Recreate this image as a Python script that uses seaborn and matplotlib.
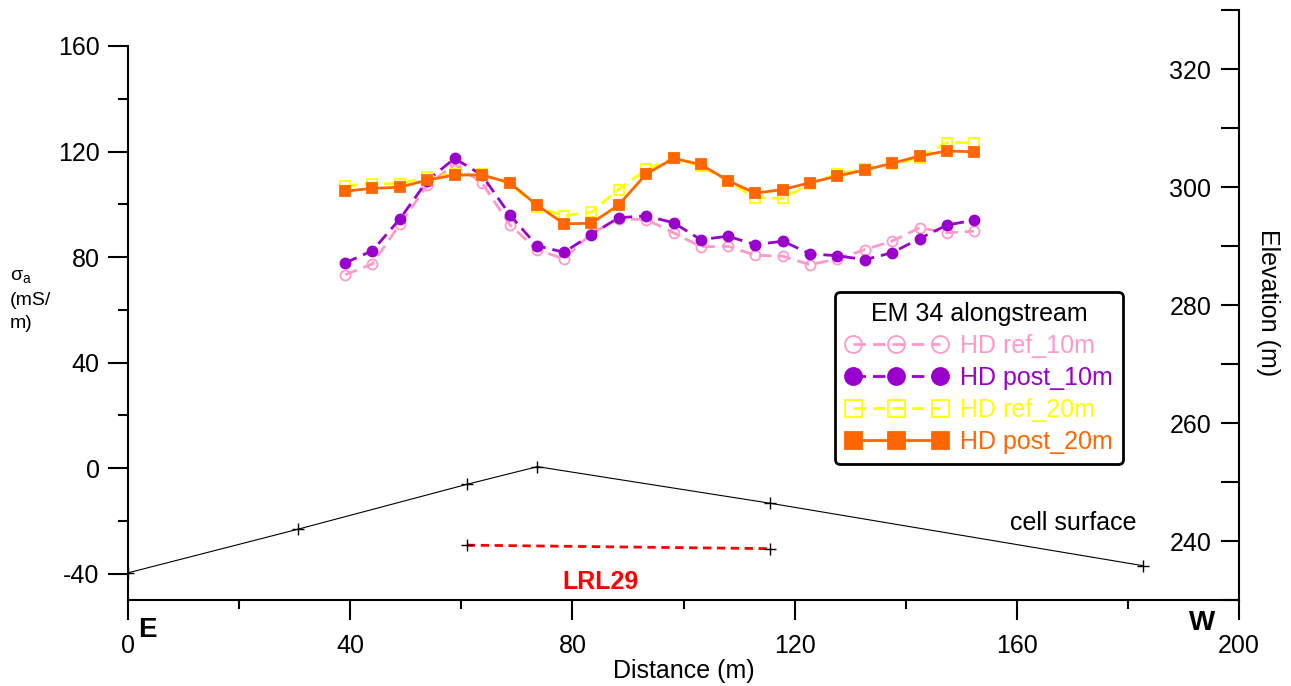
import matplotlib
matplotlib.use("Agg")
import matplotlib.pyplot as plt
import seaborn as sns
from matplotlib.ticker import MultipleLocator

# EM 34 alongstream survey, apparent conductivity (mS/m) vs distance (m)
distance = [39.1, 44.0, 49.0, 53.9, 58.8, 63.7, 68.7, 73.6, 78.5, 83.4, 88.3, 93.3,
            98.2, 103.1, 108.0, 112.9, 117.9, 122.8, 127.7, 132.6, 137.5, 142.5, 147.4, 152.3]
ref_10m = [73.3, 77.4, 92.6, 107.3, 115.1, 108.2, 92.3, 82.8, 79.3, 88.9, 94.5, 94.2,
           89.2, 83.9, 84.1, 80.7, 80.3, 77.1, 79.3, 82.8, 86.0, 91.1, 89.2, 89.8]
post_10m = [77.8, 82.4, 94.6, 109.0, 117.4, 111.1, 96.1, 84.3, 81.8, 88.5, 94.9, 95.6,
            93.0, 86.6, 87.9, 84.7, 86.0, 81.2, 80.5, 79.0, 81.6, 87.0, 92.1, 94.0]
ref_20m = [106.9, 107.8, 107.8, 110.4, 111.3, 111.3, 107.9, 98.9, 95.7, 97.0, 105.6, 113.2,
           117.6, 114.5, 108.8, 102.5, 102.2, 107.8, 111.6, 113.2, 115.1, 117.6, 123.4, 123.4]
post_20m = [105.0, 106.0, 106.5, 109.2, 111.1, 111.1, 108.2, 99.7, 92.6, 92.8, 99.7, 111.5,
            117.4, 115.1, 109.0, 104.2, 105.6, 108.2, 110.7, 113.0, 115.5, 118.3, 120.2, 119.9]

# elevation profile (m)
surf_x = [0, 30.6, 61.0, 73.7, 115.6, 182.8]
surf_elev = [234.6, 242.0, 249.6, 252.6, 246.4, 235.8]
lrl_x = [61.0, 115.6]
lrl_elev = [239.3, 238.7]

sns.set_style("ticks")
plt.rcParams["font.family"] = ["Liberation Sans", "DejaVu Sans"]
plt.rcParams.update({"text.color": "black", "axes.labelcolor": "black",
                     "xtick.color": "black", "ytick.color": "black",
                     "axes.edgecolor": "black", "axes.unicode_minus": False})

W, H = 1291, 686
fig = plt.figure(figsize=(W / 100, H / 100), dpi=100)
x0, x1, ybot = 128, 1239, 600
ax = fig.add_axes([x0 / W, (H - ybot) / H, (x1 - x0) / W, (ybot - 46) / H])
axr = fig.add_axes([x0 / W, (H - ybot) / H, (x1 - x0) / W, (ybot - 10) / H])
axr.patch.set_visible(False)

series = [
    ("HD ref_10m", ref_10m, "#ff99cc", "o", "none", (0, (4.5, 2.5))),
    ("HD post_10m", post_10m, "#9900cc", "o", "#9900cc", (0, (4.5, 2.5))),
    ("HD ref_20m", ref_20m, "#ffff00", "s", "none", (0, (4.5, 2.5))),
    ("HD post_20m", post_20m, "#ff6600", "s", "#ff6600", "-"),
]
for label, vals, col, mk, fc, ls in series:
    sns.lineplot(x=distance, y=vals, ax=ax, color=col, marker=mk, markersize=7.2,
                 markerfacecolor=fc, markeredgecolor=col, markeredgewidth=1.3,
                 linewidth=2, linestyle=ls, label=label)

sns.lineplot(x=surf_x, y=surf_elev, ax=axr, color="black", linewidth=0.8,
             marker="+", markersize=9, markeredgewidth=1, markeredgecolor="black",
             legend=False)
sns.lineplot(x=lrl_x, y=lrl_elev, ax=axr, color="#ff0000", linewidth=2,
             linestyle=(0, (3, 2)), marker="+", markersize=9, markeredgewidth=1,
             markeredgecolor="black", legend=False)

# left axis
ax.set_xlim(0, 200)
ax.set_ylim(-50, 160)
ax.xaxis.set_major_locator(MultipleLocator(40))
ax.xaxis.set_minor_locator(MultipleLocator(20))
ax.yaxis.set_major_locator(MultipleLocator(40))
ax.yaxis.set_minor_locator(MultipleLocator(20))
for s in ["top", "right"]:
    ax.spines[s].set_visible(False)
for s in ["left", "bottom"]:
    ax.spines[s].set_linewidth(1.5)
ax.tick_params(which="both", direction="out", width=1.5, labelsize=18,
               bottom=True, left=True)
ax.tick_params(axis="y", which="major", length=14.4, pad=6)
ax.tick_params(axis="y", which="minor", length=7)
ax.tick_params(axis="x", which="major", length=14.4, pad=10)
ax.tick_params(axis="x", which="minor", length=6.5)
ax.set_xlabel("Distance (m)", fontsize=18, labelpad=1)
ax.set_ylabel("")

# right axis (elevation), ticks and labels inside the plot
axr.set_xlim(0, 200)
axr.set_ylim(230, 330)
axr.set_xticks([])
axr.yaxis.set_major_locator(MultipleLocator(20))
axr.yaxis.set_minor_locator(MultipleLocator(10))
for s in ["top", "right", "bottom"]:
    axr.spines[s].set_visible(False)
axr.spines["left"].set_position(("axes", 1.0))
axr.spines["left"].set_linewidth(1.5)
axr.yaxis.set_ticks_position("left")
axr.tick_params(which="both", direction="out", width=1.5, labelsize=18, left=True)
axr.tick_params(axis="y", which="major", length=13, pad=7)
axr.tick_params(axis="y", which="minor", length=13)
axr.set_ylabel("")

axr.text(170.1, 243.0, "cell surface", fontsize=18, ha="center", va="center")
axr.text(85.0, 233.0, "LRL29", fontsize=18, fontweight="bold", color="#ff0000",
         ha="center", va="center")

fig.text(10 / W, 1 - 300 / H, "σ$_\\mathregular{a}$\n(mS/\nm)", fontsize=14,
         ha="left", va="center", linespacing=1.45)
fig.text(1268 / W, 1 - 303 / H, "Elevation (m)", fontsize=18, rotation=270,
         ha="center", va="center")
fig.text(147.5 / W, 1 - 630 / H, "E", fontsize=20, fontweight="bold", ha="center", va="center")
fig.text(1202 / W, 1 - 623 / H, "W", fontsize=20, fontweight="bold", ha="center", va="center")

leg = ax.legend(title="EM 34 alongstream", loc="upper left",
                bbox_to_anchor=(835 / W, 1 - 292 / H), bbox_transform=fig.transFigure,
                fontsize=18, title_fontsize=18, numpoints=3, markerscale=1.7,
                handlelength=4.1, handletextpad=0.5, labelspacing=0.32,
                borderpad=0.4, borderaxespad=0, fancybox=True, framealpha=1,
                edgecolor="black")
leg.get_frame().set_linewidth(2)
for txt, (label, vals, col, mk, fc, ls) in zip(leg.get_texts(), series):
    txt.set_color(col)

fig.savefig("out.png", dpi=100)
